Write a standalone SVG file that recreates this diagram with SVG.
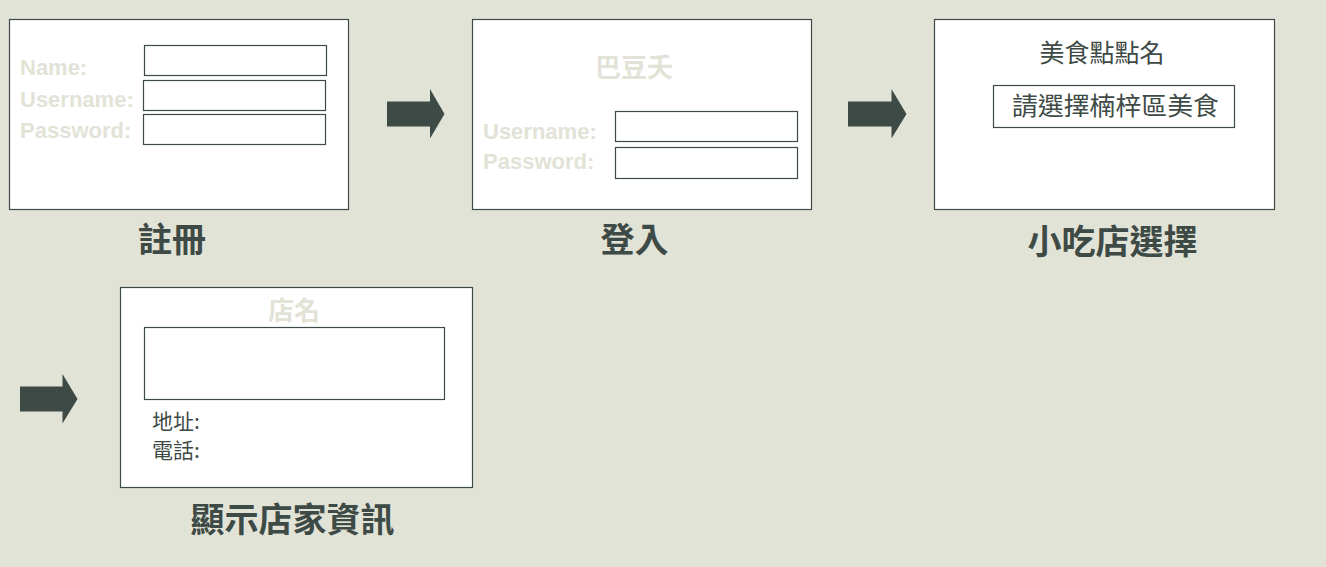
<svg xmlns="http://www.w3.org/2000/svg" width="1326" height="567" viewBox="0 0 1326 567">
<style>
.frame{fill:#ffffff;stroke:#3e4a45;stroke-width:1.2}
.field{fill:#ffffff;stroke:#3e4a45;stroke-width:1.2}
.faint{fill:#e2e3d6;font-family:"Liberation Sans","Noto Sans CJK TC",sans-serif;font-weight:bold;font-size:22px}
.faintcjk{fill:#e2e3d6;font-family:"Noto Sans CJK TC",sans-serif;font-weight:bold;font-size:26px;text-anchor:middle}
.caption{fill:#3e4a45;font-family:"Noto Sans CJK TC",sans-serif;font-weight:bold;font-size:34px;text-anchor:middle}
.body{fill:#3e4a45;font-family:"Noto Sans CJK TC",sans-serif;font-size:25px}
.small{fill:#3e4a45;font-family:"Noto Sans CJK TC",sans-serif;font-size:21px}
.arrow{fill:#3e4a45}
</style>
<rect x="0" y="0" width="1326" height="567" fill="#e2e3d7"/>

<g id="register">
<rect class="frame" x="9.5" y="19.5" width="339" height="190"/>
<rect class="field" x="144.5" y="45.5" width="182" height="30"/>
<rect class="field" x="143.5" y="80.5" width="182" height="30"/>
<rect class="field" x="143.5" y="114.5" width="182" height="30"/>
<text class="faint" x="20" y="75">Name:</text>
<text class="faint" x="20" y="107">Username:</text>
<text class="faint" x="20" y="138">Password:</text>
<text class="caption" x="172" y="252">註冊</text>
</g>

<g id="login">
<rect class="frame" x="472.5" y="19.5" width="339" height="190"/>
<text class="faintcjk" x="634" y="77">巴豆夭</text>
<rect class="field" x="615.5" y="111.5" width="182" height="30"/>
<rect class="field" x="615.5" y="147.5" width="182" height="31"/>
<text class="faint" x="483" y="139">Username:</text>
<text class="faint" x="483" y="169">Password:</text>
<text class="caption" x="634.5" y="252">登入</text>
</g>

<g id="select">
<rect class="frame" x="934.5" y="19.5" width="340" height="190"/>
<text class="body" x="1102" y="62" text-anchor="middle">美食點點名</text>
<rect class="field" x="993.5" y="85.5" width="241" height="42"/>
<text class="body" x="1012" y="115" textLength="207" lengthAdjust="spacingAndGlyphs">請選擇楠梓區美食</text>
<text class="caption" x="1112.5" y="254">小吃店選擇</text>
</g>

<g id="info">
<rect class="frame" x="120.5" y="287.5" width="352" height="200"/>
<text class="faintcjk" x="294" y="320">店名</text>
<rect class="field" x="144.5" y="327.5" width="300" height="72"/>
<text class="small" x="152" y="429">地址:</text>
<text class="small" x="152" y="458">電話:</text>
<text class="caption" x="292.5" y="532">顯示店家資訊</text>
</g>

<g id="connectors">
<path class="arrow" d="M387,101.5 H430 V89 L444.5,114 L430,138.5 V126.5 H387 Z"/>
<path class="arrow" d="M848,101.5 H891.5 V89 L906.5,114 L891.5,138.5 V126.5 H848 Z"/>
<path class="arrow" d="M20,386.5 H62.5 V374 L77.5,399 L62.5,423.5 V411.5 H20 Z"/>
</g>
</svg>
